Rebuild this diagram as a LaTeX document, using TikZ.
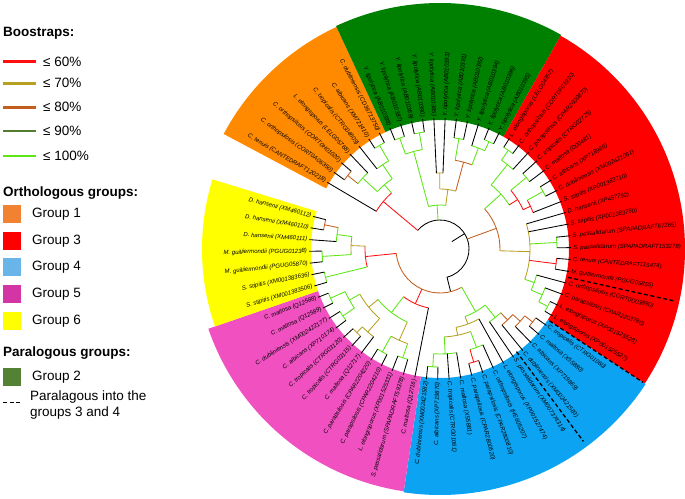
\documentclass[tikz,border=0pt]{standalone}
\usepackage{fontspec}
\setmainfont{Liberation Sans}
\definecolor{cA}{HTML}{FF1010}
\definecolor{cB}{HTML}{B8A020}
\definecolor{cC}{HTML}{C35F1E}
\definecolor{cD}{HTML}{557D32}
\definecolor{cE}{HTML}{5CE614}
\definecolor{sOr}{HTML}{FF8A00}
\definecolor{sGr}{HTML}{008000}
\definecolor{sRd}{HTML}{FF0000}
\definecolor{sBl}{HTML}{0CA4F2}
\definecolor{sMg}{HTML}{F050C0}
\definecolor{sYe}{HTML}{FFFF00}
\definecolor{gOne}{HTML}{F08232}
\definecolor{gFour}{HTML}{69B4E8}
\definecolor{gFive}{HTML}{D435A4}
\definecolor{gTwo}{HTML}{548235}
% tree node: color, r parent, r node, mid angle, arc start, arc end
\newcommand\tnd[6]{\draw[br,#1] (#4:#2pt) -- (#4:#3pt);
  \draw[br,#1] (#5:#3pt) arc[start angle=#5,end angle=#6,radius=#3pt];}
% leaf: r parent, angle
\newcommand\tlf[2]{\draw[leafline] (#2:#1pt) -- (#2:131pt);}
\newcommand\labR[2]{\node[lab,rotate=#1,anchor=west] at (#1:132.5pt) {#2};}
\newcommand\labL[2]{\node[lab,rotate=#1-180,anchor=east] at (#1:132.5pt) {#2};}
\newcommand\sect[4]{\fill[#1] (#2:129pt) arc[start angle=#2,end angle=#3,radius=129pt] -- (#3:#4pt) arc[start angle=#3,end angle=#2,radius=#4pt] -- cycle;}
\begin{document}
\begin{tikzpicture}[x=1pt,y=1pt,
  lab/.style={font=\itshape\fontsize{6}{7}\selectfont, inner sep=0.4pt},
  leg/.style={font=\fontsize{13.5}{15}\selectfont, anchor=west, inner sep=0},
  legh/.style={font=\bfseries\fontsize{13.5}{15}\selectfont, anchor=west, inner sep=0},
  br/.style={line width=0.85pt},
  leafline/.style={line width=0.85pt, black},
  pdash/.style={dash pattern=on 4pt off 2.5pt, line width=1.3pt, black},
  legbox/.style={minimum width=18pt, minimum height=18pt, inner sep=0}]
\useasboundingbox (0,0) rectangle (685,498);

% ---------------- legend ----------------
\node[legh] (hb) at (3,465) {Boostraps:};
\coordinate (l1a) at (3,436.3); \coordinate (l1b) at (36,436.3);
\coordinate (l2a) at (3,414.7); \coordinate (l2b) at (36,414.7);
\coordinate (l3a) at (3,390.7); \coordinate (l3b) at (36,390.7);
\coordinate (l4a) at (3,367);   \coordinate (l4b) at (36,367);
\coordinate (l5a) at (3,342);   \coordinate (l5b) at (36,342);
\draw[line width=2.6pt,cA] (l1a) -- (l1b);
\draw[line width=2.6pt,cB] (l2a) -- (l2b);
\draw[line width=2.6pt,cC] (l3a) -- (l3b);
\draw[line width=2.6pt,cD] (l4a) -- (l4b);
\draw[line width=2.6pt,cE] (l5a) -- (l5b);
\node[leg] (t1) at (43,436.3) {≤ 60\%};
\node[leg] (t2) at (43,414.7) {≤ 70\%};
\node[leg] (t3) at (43,390.7) {≤ 80\%};
\node[leg] (t4) at (43,367) {≤ 90\%};
\node[leg] (t5) at (43,342) {≤ 100\%};

\node[legh] (ho) at (3,305) {Orthologous groups:};
\node[legbox,fill=gOne] (b1) at (12,284) {};
\node[legbox,fill=sRd] (b3) at (12,257) {};
\node[legbox,fill=gFour] (b4) at (12,230.5) {};
\node[legbox,fill=gFive] (b5) at (12,204) {};
\node[legbox,fill=sYe] (b6) at (12,177) {};
\node[leg] (g1) at (32,284) {Group 1};
\node[leg] (g3) at (32,257) {Group 3};
\node[leg] (g4) at (32,230.5) {Group 4};
\node[leg] (g5) at (32,204) {Group 5};
\node[leg] (g6) at (32,177) {Group 6};

\node[legh] (hp) at (3,144.7) {Paralogous groups:};
\node[legbox,fill=gTwo] (b2) at (12,121.3) {};
\node[leg] (g2) at (32,121.3) {Group 2};
\coordinate (da) at (3,95.3); \coordinate (db) at (21,95.3);
\draw[pdash] (da) -- (db);
\node[leg] (p1) at (30,101) {Paralagous into the};
\node[leg] (p2) at (30,85) {groups 3 and 4};

% ---------------- circular tree ----------------
\begin{scope}[shift={(440,249)}]
% coloured sectors
\sect{sOr}{115}{152}{245}
\sect{sGr}{60.5}{115}{246}
\sect{sRd}{-33.3}{60.5}{245}
\sect{sBl}{-98.5}{-33.3}{246}
\sect{sMg}{199}{261.5}{245}
\sect{sYe}{163}{199}{238}

% dashed separators
\draw[pdash] (-33.3:131pt) -- (-33.3:243pt);
\draw[pdash] (-12.5:131pt) -- (-12.5:241pt);
\draw[pdash] (-53.3:128pt) -- (-53.3:240pt);

% root
\draw[br,black] (32:14pt) -- (32:29pt);
\draw[br,black] (-76:29pt) arc[start angle=-76,end angle=140.1,radius=29pt];

% orange clade
\tnd{cA}{29}{74}{140.1}{130.9}{149.4}
\tlf{74}{149.4}
\tnd{cE}{74}{85}{130.9}{124.2}{137.5}
\tnd{cE}{85}{102}{124.2}{120.25}{128.2}
\tlf{102}{128.2}
\tnd{cE}{102}{120}{120.25}{117.6}{122.9}
\tlf{120}{117.6} \tlf{120}{122.9}
\tnd{cE}{85}{105}{137.5}{133.5}{141.45}
\tlf{105}{133.5}
\tnd{cC}{105}{118}{141.45}{138.8}{144.1}
\tlf{118}{138.8} \tlf{118}{144.1}

% green clade
\tnd{cE}{29}{44}{93.8}{82.5}{105.1}
\tnd{cE}{44}{101}{105.1}{100.1}{110.0}
\tnd{cE}{101}{118}{100.1}{97.65}{102.6}
\tlf{118}{97.65} \tlf{118}{102.6}
\tnd{cE}{101}{118}{110.0}{107.55}{112.5}
\tlf{118}{107.55} \tlf{118}{112.5}
\tnd{cB}{44}{60}{82.5}{74.8}{90.2}
\tnd{cB}{60}{76}{90.2}{87.75}{92.7}
\tlf{76}{87.75} \tlf{76}{92.7}
\tnd{cC}{60}{90}{74.8}{69.2}{80.3}
\tnd{cE}{90}{112}{80.3}{77.85}{82.8}
\tlf{112}{77.85} \tlf{112}{82.8}
\tnd{cE}{90}{108}{69.2}{65.5}{72.9}
\tlf{108}{72.9}
\tnd{cE}{108}{118}{65.5}{63.0}{67.95}
\tlf{118}{63.0} \tlf{118}{67.95}

% red clade
\tnd{cC}{29}{60}{20.15}{-1.7}{42}
\tnd{cB}{60}{90}{-1.7}{-19.65}{16.2}
\tlf{90}{11.0} \tlf{90}{16.2}
\tnd{cE}{90}{117}{3.2}{0.6}{5.8}
\tlf{117}{0.6} \tlf{117}{5.8}
\tnd{cA}{90}{117}{-7.25}{-9.9}{-4.6}
\tlf{117}{-9.9} \tlf{117}{-4.6}
\tnd{cE}{90}{100}{-19.65}{-24.2}{-15.1}
\tlf{100}{-15.1}
\tnd{cE}{100}{112}{-24.2}{-28.1}{-20.3}
\tlf{112}{-20.3}
\tnd{cE}{112}{122}{-28.1}{-30.7}{-25.5}
\tlf{122}{-30.7} \tlf{122}{-25.5}
\tnd{cE}{60}{82}{42}{32.5}{51.4}
\tnd{cE}{82}{108}{51.4}{47.5}{55.3}
\tlf{108}{47.5}
\tnd{cE}{108}{120}{55.3}{52.7}{57.9}
\tlf{120}{52.7} \tlf{120}{57.9}
\tnd{cA}{82}{92}{32.5}{25.3}{39.65}
\tnd{cE}{92}{112}{39.65}{37.0}{42.3}
\tlf{112}{37.0} \tlf{112}{42.3}
\tnd{cA}{92}{100}{25.3}{21.4}{29.2}
\tlf{100}{21.4}
\tnd{cE}{100}{118}{29.2}{26.6}{31.8}
\tlf{118}{26.6} \tlf{118}{31.8}

% blue / magenta / yellow clade
\draw[br,black] (-76:29pt) -- (-76:44pt);
\draw[br,cC] (185.8:44pt) arc[start angle=185.8,end angle=299.6,radius=44pt];
% yellow
\tnd{cA}{44}{75}{185.8}{177.8}{193.85}
\tnd{cB}{75}{89}{177.8}{172.0}{183.6}
\tnd{cE}{89}{104}{172.0}{168.15}{175.9}
\tlf{104}{175.9}
\tnd{cC}{104}{118}{168.15}{165.6}{170.7}
\tlf{118}{165.6} \tlf{118}{170.7}
\tnd{cE}{89}{118}{183.6}{181.0}{186.2}
\tlf{118}{181.0} \tlf{118}{186.2}
\tnd{cE}{75}{118}{193.85}{191.3}{196.4}
\tlf{118}{191.3} \tlf{118}{196.4}
% magenta
\tnd{cA}{44}{60}{245.7}{232.6}{258.9}
\tlf{60}{258.9}
\tnd{cE}{60}{80}{232.6}{219.2}{245.9}
\tnd{cB}{80}{92}{219.2}{209.4}{229.0}
\tnd{cE}{92}{104}{209.4}{204.2}{214.6}
\tnd{cE}{104}{120}{204.2}{201.6}{206.8}
\tlf{120}{201.6} \tlf{120}{206.8}
\tnd{cE}{104}{118}{214.6}{212.0}{217.2}
\tlf{118}{212.0} \tlf{118}{217.2}
\tnd{cB}{92}{110}{229.0}{225.1}{232.9}
\tlf{110}{232.9}
\tnd{cB}{110}{118}{225.1}{222.5}{227.7}
\tlf{118}{222.5} \tlf{118}{227.7}
\tnd{cB}{80}{100}{245.9}{240.7}{251.1}
\tnd{cE}{100}{118}{240.7}{238.1}{243.3}
\tlf{118}{238.1} \tlf{118}{243.3}
\tnd{cE}{100}{115}{251.1}{248.5}{253.7}
\tlf{115}{248.5} \tlf{115}{253.7}
% blue
\tnd{cE}{44}{72}{299.6}{290.35}{308.9}
\tnd{cB}{72}{80}{290.35}{281.6}{299.1}
\tlf{80}{299.1}
\tnd{cB}{80}{88}{281.6}{272.8}{290.35}
\tnd{cE}{88}{105}{272.8}{266.5}{279.1}
\tlf{105}{274.0} \tlf{105}{279.1}
\tnd{cE}{105}{118}{266.5}{264.0}{269.0}
\tlf{118}{264.0} \tlf{118}{269.0}
\tnd{cE}{88}{105}{290.35}{286.6}{294.1}
\tlf{105}{294.1}
\tnd{cA}{105}{118}{286.6}{284.1}{289.1}
\tlf{118}{284.1} \tlf{118}{289.1}
\tnd{cE}{72}{88}{308.9}{304.2}{313.6}
\tlf{88}{304.2}
\tnd{cC}{88}{98}{313.6}{309.2}{318.0}
\tlf{98}{309.2}
\tnd{cC}{98}{108}{318.0}{314.2}{321.75}
\tlf{108}{314.2}
\tnd{cC}{108}{118}{321.75}{319.2}{324.3}
\tlf{118}{319.2} \tlf{118}{324.3}

% ---------------- labels ----------------
% red
\labR{-30.7}{L. elongisporus (XP001525527)}
\labR{-25.5}{L. elongisporus (XP001525528)}
\labR{-20.3}{C. parapsilosis (CPAR2203780)}
\labR{-15.1}{C. orthopsilosis (CORT0D03890)}
\labR{-9.9}{M. guilliermondii (PGUG05855)}
\labR{-4.6}{C. tenuis (CANTEDRAFT115474)}
\labR{0.6}{S. passalidarum (SPAPADRAFT153278)}
\labR{5.8}{S. passalidarum (SPAPADRAFT67265)}
\labR{11.0}{S. stipitis (XP001383780)}
\labR{16.2}{D. hansenii (XP457792)}
\labR{21.4}{S. stipitis (XP001383710)}
\labR{26.6}{C. dubliniensis (XM002421081)}
\labR{31.8}{C. albicans (XP718966)}
\labR{37.0}{C. maltosa (D00481)}
\labR{42.3}{C. tropicalis (CTRG02725)}
\labR{47.5}{C. parapsilosis (CPAR2600870)}
\labR{52.7}{C. orthopsilosis (CORT0F01930)}
\labR{57.9}{L. elongisporus (LELG04957)}
% green
\labR{63.0}{Y. lipolytica (AB010395)}
\labR{67.95}{Y. lipolytica (AB010396)}
\labR{72.9}{Y. lipolytica (AB010394)}
\labR{77.85}{Y. lipolytica (AB010392)}
\labR{82.8}{Y. lipolytica (AB010391)}
\labR{87.75}{Y. lipolytica (AB010393)}
\labL{92.7}{Y. lipolytica (AB010385)}
\labL{97.65}{Y. lipolytica (AB010390)}
\labL{102.6}{Y. lipolytica (AB010389)}
\labL{107.55}{Y. lipolytica (AB010387)}
\labL{112.5}{Y. lipolytica (AB010388)}
% orange
\labL{117.6}{C. dubliniensis (CD36713750)}
\labL{122.9}{C. albicans (XM721410)}
\labL{128.2}{C. tropicalis (CTRG04609)}
\labL{133.5}{L. elongisporus (LELG05768)}
\labL{138.8}{C. orthopsilosis (CORT0H01020)}
\labL{144.1}{C. orthopsilosis (CORT0A06350)}
\labL{149.4}{C. tenuis (CANTEDRAFT120218)}
% yellow
\labL{165.6}{D. hansenii (XM460112)}
\labL{170.7}{D. hansenii (XM460110)}
\labL{175.9}{D. hansenii (XM460111)}
\labL{181.0}{M. guilliermondii (PGUG01238)}
\labL{186.2}{M. guilliermondii (PGUG05870)}
\labL{191.3}{S. stipitis (XM001383636)}
\labL{196.4}{S. stipitis (XM001383506)}
% magenta
\labL{201.6}{C. maltosa (Q12588)}
\labL{206.8}{C. maltosa (Q12589)}
\labL{212.0}{C. dubliniensis (XM002422177)}
\labL{217.2}{C. albicans (XP710174)}
\labL{222.5}{C. tropicalis (CTRG03120)}
\labL{227.7}{C. tropicalis (CTRG03115)}
\labL{232.9}{C. maltosa (Q12717)}
\labL{238.1}{C. parapsilosis (CPAR2204220)}
\labL{243.3}{C. parapsilosis (CPAR2204210)}
\labL{248.5}{L. elongisporus (XP001525331)}
\labL{253.7}{S. passalidarum (SPAPADRAFT59378)}
\labL{258.9}{C. maltosa (Q12716)}
% blue
\labL{264.0}{C. dubliniensis (XM002421582)}
\labL{269.0}{C. albicans (XP719870)}
\labR{274.0}{C. tropicalis (CTRG01061)}
\labR{279.1}{C. maltosa (X55881)}
\labR{284.1}{C. parapsilosis (CPAR2800520)}
\labR{289.1}{C. parapsilosis (CPAR2800810)}
\labR{294.1}{C. orthopsilosis (HE605207)}
\labR{299.1}{L. elongisporus (XP001527474)}
\labR{304.2}{S. passalidarum (XM007374314)}
\labR{309.2}{C. dubliniensis (XM002421583)}
\labR{314.2}{C. albicans (XP719869)}
\labR{319.2}{C. maltosa (X55880)}
\labR{324.3}{C. tropicalis (CTRG01060)}
\end{scope}
\end{tikzpicture}
\end{document}
